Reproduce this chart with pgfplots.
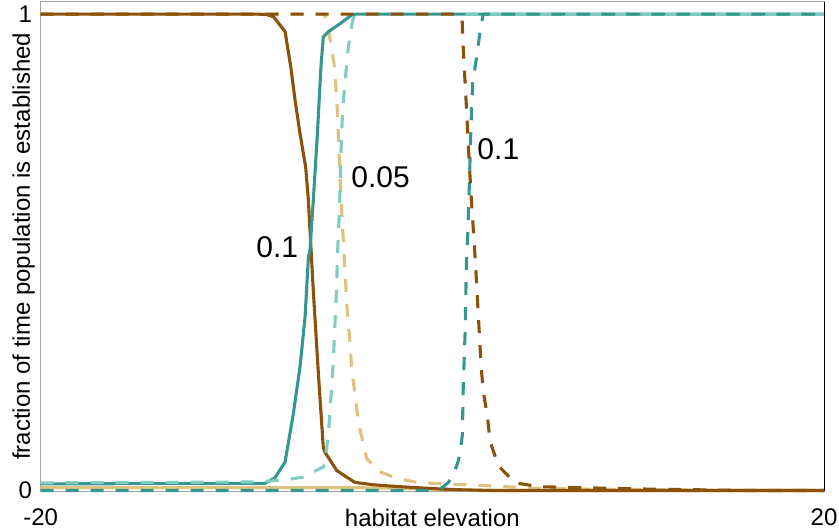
\documentclass[border=0pt]{standalone}
\usepackage{fontspec}
\setmainfont{Liberation Sans}
\usepackage{pgfplots}
\pgfplotsset{compat=1.18}

\definecolor{brn}{RGB}{140,81,10}
\definecolor{tan}{RGB}{223,194,125}
\definecolor{teal}{RGB}{53,151,143}
\definecolor{lteal}{RGB}{128,205,193}

\begin{document}
\begin{tikzpicture}
\begin{axis}[
    scale only axis,
    width=783.3bp, height=489.3bp,
    xmin=-20, xmax=20, ymin=-0.001, ymax=1.026,
    xtick={-20,20}, xticklabels={-20,20},
    ytick={0,1}, yticklabels={0,1},
    major tick length=0pt,
    axis line style={gray!70, line width=0.8bp},
    tick label style={font=\fontsize{24bp}{28bp}\selectfont, inner sep=0pt},
    xticklabel style={anchor=north, yshift=-18bp},
    yticklabel style={anchor=center, xshift=-15.3bp},
    xlabel={habitat elevation},
    xlabel style={at={(axis description cs:0.5,0)}, anchor=north, inner sep=0pt,
        yshift=-18bp, font=\fontsize{24bp}{28bp}\selectfont},
    ylabel={fraction of time population is established},
    ylabel style={at={(axis description cs:-0.0137,0.5)}, anchor=base, inner sep=0pt,
        font=\fontsize{24bp}{28bp}\selectfont},
    clip=false,
    every axis plot/.append style={line width=3.1bp, line join=round},
    dsh/.style={dash pattern=on 13bp off 12bp},
]
% 0.05, solid (stays near zero)
\addplot[tan] coordinates {
    (-20,0.006) (-4,0.006) (-2,0.005) (0,0.003) (2,0.001) (4,0) (20,0)
};
% 0.05, dashed, brown side
\addplot[tan, dsh] coordinates {
    (-20,1) (-5.5,1) (-5.27,0.959) (-5.0,0.89) (-4.85,0.798) (-4.75,0.693)
    (-4.63,0.588) (-4.5,0.49) (-4.34,0.373) (-4.2,0.308) (-4.12,0.254)
    (-3.95,0.203) (-3.78,0.143) (-3.35,0.067) (-2.7,0.04) (-1.99,0.028)
    (-0.8,0.017) (0.56,0.014) (2.6,0.0105) (5.16,0.005) (8,0.003)
    (12,0.0015) (15,0) (20,0)
};
% 0.1, solid
\addplot[brn] coordinates {
    (-20,1) (-9,1) (-8.46,0.999) (-8.1,0.994) (-7.52,0.963) (-7.23,0.889)
    (-7.01,0.819) (-6.76,0.75) (-6.47,0.679) (-6.33,0.609) (-6.22,0.525)
    (-6.08,0.42) (-5.82,0.245) (-5.57,0.091) (-5.48,0.08) (-4.88,0.042)
    (-4.37,0.028) (-3.95,0.017) (-3,0.012) (-2,0.009) (-0.8,0.006)
    (0.5,0.003) (1.5,0.0015) (3,0) (20,0)
};
\addplot[teal] coordinates {
    (-20,0.014) (-8.54,0.015) (-8.03,0.027) (-7.52,0.06) (-7.1,0.161)
    (-6.76,0.259) (-6.5,0.364) (-6.33,0.49) (-6.25,0.504) (-6.08,0.609)
    (-5.87,0.749) (-5.69,0.889) (-5.57,0.952) (-5.31,0.963) (-4.71,0.98)
    (-4.12,0.998) (-3.9,1) (20,1)
};
% 0.05, dashed, teal side
\addplot[lteal, dsh] coordinates {
    (-20,0.016) (-9,0.018) (-7.6,0.022) (-6.6,0.028) (-5.55,0.05)
    (-5.48,0.063) (-5.31,0.116) (-5.23,0.168) (-5.14,0.22) (-5.05,0.275)
    (-5.0,0.33) (-4.93,0.384) (-4.88,0.437) (-4.85,0.49) (-4.8,0.536)
    (-4.75,0.584) (-4.71,0.641) (-4.68,0.695) (-4.63,0.75) (-4.58,0.802)
    (-4.46,0.854) (-4.34,0.912) (-4.2,0.958) (-4.05,0.99) (-3.9,1) (20,1)
};
% 0.1, dashed
\addplot[teal, dsh] coordinates {
    (-20,0) (0,0) (0.5,0.006) (0.82,0.017) (1.1,0.035) (1.33,0.063)
    (1.45,0.09) (1.53,0.116) (1.58,0.221) (1.67,0.328) (1.72,0.434)
    (1.75,0.49) (1.81,0.539) (1.89,0.644) (1.96,0.749) (2.01,0.805)
    (2.06,0.856) (2.27,0.912) (2.44,0.965) (2.6,1) (20,1)
};
\addplot[brn, dsh] coordinates {
    (-20,1) (1.0,1) (1.35,0.998) (1.52,0.99) (1.55,0.951) (1.62,0.895)
    (1.69,0.842) (1.76,0.79) (1.82,0.737) (1.89,0.685) (1.96,0.632)
    (2.04,0.58) (2.13,0.525) (2.21,0.471) (2.28,0.418) (2.35,0.366)
    (2.42,0.313) (2.49,0.261) (2.6,0.208) (2.81,0.156) (2.95,0.103)
    (3.37,0.052) (4.22,0.016) (5.5,0.008) (8.6,0.005) (11,0.003)
    (13.7,0.0015) (16,0) (20,0)
};
\draw[black, line width=0.8bp] (rel axis cs:1,0) -- (rel axis cs:1,1);
\node[font=\fontsize{30bp}{34bp}\selectfont] at (axis cs:-7.92,0.51) {0.1};
\node[font=\fontsize{30bp}{34bp}\selectfont] at (axis cs:-2.64,0.657) {0.05};
\node[font=\fontsize{30bp}{34bp}\selectfont] at (axis cs:3.37,0.716) {0.1};
\coordinate (bl) at (rel axis cs:0,0);
\coordinate (tr) at (rel axis cs:1,1);
\end{axis}
\pgfresetboundingbox
\path ([xshift=-40.7bp,yshift=-40bp]bl) rectangle ([xshift=15bp,yshift=1.7bp]tr);
\end{tikzpicture}
\end{document}
